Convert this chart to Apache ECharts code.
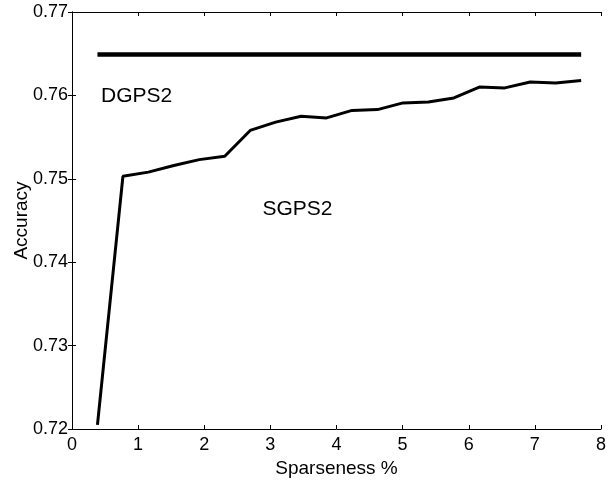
<!DOCTYPE html>
<html>
<head>
<meta charset="utf-8">
<script src="https://cdn.jsdelivr.net/npm/echarts@6/dist/echarts.min.js"></script>
<style>
html, body { margin: 0; padding: 0; background: #fff; }
#chart { width: 608px; height: 484px; }
</style>
</head>
<body>
<div id="chart"></div>
<script>
// sparseness (%) for each run
const sparseness = [0.385, 0.77, 1.155, 1.54, 1.925, 2.31, 2.695, 3.08, 3.465, 3.85,
    4.235, 4.62, 5.005, 5.39, 5.775, 6.16, 6.545, 6.93, 7.315, 7.7]
const sgps2 = [0.7205, 0.7503, 0.7508, 0.7516, 0.7523, 0.7527, 0.7558, 0.7568, 0.7575, 0.7573,
    0.7582, 0.7583, 0.7591, 0.7592, 0.7597, 0.7610, 0.7609, 0.7616, 0.7615, 0.7618]
const dgps2 = 0.7649
const labels = [
    { name: 'DGPS2', x: 0.44, y: 0.7599 },
    { name: 'SGPS2', x: 2.88, y: 0.7463 }
]

const font = 'Liberation Sans, Arial, sans-serif'
let chart = echarts.init(document.getElementById('chart'))

let axisCommon = {
    axisLine: { show: true, lineStyle: { color: '#000', width: 1 } },
    axisTick: { show: true, inside: true, length: 4, lineStyle: { color: '#000' } },
    splitLine: { show: false }
}

let options = {
    animation: false,
    backgroundColor: '#fff',
    grid: { left: 72, right: 7, top: 12, bottom: 55, outerBoundsMode: 'none', containLabel: false },
    xAxis: [
        Object.assign({
            type: 'value', min: 0, max: 8, interval: 1,
            name: 'Sparseness %', nameLocation: 'middle', nameGap: 30,
            nameTextStyle: { color: '#000', fontSize: 19, fontFamily: font },
            axisLabel: { color: '#000', fontSize: 18, fontFamily: font, margin: 7 }
        }, axisCommon),
        Object.assign({
            type: 'value', min: 0, max: 8, interval: 1, position: 'top',
            axisLabel: { show: false }
        }, axisCommon)
    ],
    yAxis: [
        Object.assign({
            type: 'value', min: 0.72, max: 0.77, interval: 0.01,
            name: 'Accuracy', nameLocation: 'middle', nameGap: 41, nameMoveOverlap: false,
            nameTextStyle: { color: '#000', fontSize: 19, fontFamily: font },
            axisLabel: {
                color: '#000', fontSize: 18, fontFamily: font, margin: 4,
                formatter: v => v.toFixed(2)
            }
        }, axisCommon),
        Object.assign({
            type: 'value', min: 0.72, max: 0.77, interval: 0.01, position: 'right',
            axisLabel: { show: false }
        }, axisCommon)
    ],
    series: [
        {
            name: 'DGPS2',
            type: 'line',
            symbol: 'none',
            data: [[sparseness[0], dgps2], [sparseness[sparseness.length - 1], dgps2]],
            lineStyle: { color: '#000', width: 4.5 }
        },
        {
            name: 'SGPS2',
            type: 'line',
            symbol: 'none',
            data: sparseness.map((x, i) => [x, sgps2[i]]),
            lineStyle: { color: '#000', width: 3 }
        },
        {
            type: 'scatter',
            symbolSize: 0,
            itemStyle: { opacity: 1, color: '#000' },
            data: labels.map(l => ({ value: [l.x, l.y], name: l.name })),
            label: {
                show: true, position: 'right', distance: 0,
                formatter: p => p.name,
                color: '#000', fontSize: 21, fontFamily: font
            }
        }
    ]
}
chart.setOption(options)
</script>
</body>
</html>
